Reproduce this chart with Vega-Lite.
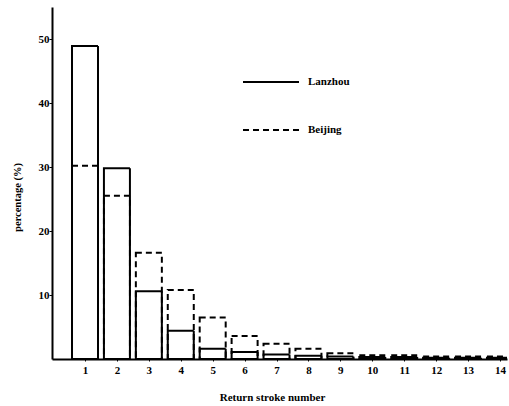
{
  "$schema": "https://vega.github.io/schema/vega-lite/v6.json",
  "width": 455,
  "height": 352,
  "autosize": "none",
  "padding": {"left": 52, "top": 7, "right": 2, "bottom": 47},
  "background": "white",
  "config": {
    "view": {"stroke": null},
    "font": "Liberation Serif"
  },
  "data": {
    "values": [
      {"n": 1, "city": "Beijing", "pct": 30.2},
      {"n": 2, "city": "Beijing", "pct": 25.5},
      {"n": 3, "city": "Beijing", "pct": 16.6},
      {"n": 4, "city": "Beijing", "pct": 10.8},
      {"n": 5, "city": "Beijing", "pct": 6.5},
      {"n": 6, "city": "Beijing", "pct": 3.6},
      {"n": 7, "city": "Beijing", "pct": 2.4},
      {"n": 8, "city": "Beijing", "pct": 1.6},
      {"n": 9, "city": "Beijing", "pct": 0.9},
      {"n": 10, "city": "Beijing", "pct": 0.6},
      {"n": 11, "city": "Beijing", "pct": 0.6},
      {"n": 12, "city": "Beijing", "pct": 0.4},
      {"n": 13, "city": "Beijing", "pct": 0.4},
      {"n": 14, "city": "Beijing", "pct": 0.4},
      {"n": 1, "city": "Lanzhou", "pct": 48.9},
      {"n": 2, "city": "Lanzhou", "pct": 29.8},
      {"n": 3, "city": "Lanzhou", "pct": 10.6},
      {"n": 4, "city": "Lanzhou", "pct": 4.4},
      {"n": 5, "city": "Lanzhou", "pct": 1.6},
      {"n": 6, "city": "Lanzhou", "pct": 1.1},
      {"n": 7, "city": "Lanzhou", "pct": 0.7},
      {"n": 8, "city": "Lanzhou", "pct": 0.5},
      {"n": 9, "city": "Lanzhou", "pct": 0.4},
      {"n": 10, "city": "Lanzhou", "pct": 0.3},
      {"n": 11, "city": "Lanzhou", "pct": 0.3},
      {"n": 12, "city": "Lanzhou", "pct": 0.2},
      {"n": 13, "city": "Lanzhou", "pct": 0.2},
      {"n": 14, "city": "Lanzhou", "pct": 0.2}
    ]
  },
  "mark": {"type": "bar", "filled": false, "color": "black", "strokeWidth": 2, "size": 26, "clip": true},
  "encoding": {
    "x": {
      "field": "n", "type": "quantitative",
      "scale": {"domain": [-0.034, 14.22], "nice": false, "zero": false, "padding": 0},
      "axis": {
        "values": [1,2,3,4,5,6,7,8,9,10,11,12,13,14], "format": "d",
        "title": "Return stroke number",
        "titleFont": "Liberation Serif", "titleFontWeight": "bold", "titleFontSize": 11,
        "titleX": 220, "titleY": 38, "titleBaseline": "middle",
        "labelFont": "Liberation Serif", "labelFontWeight": "bold", "labelFontSize": 11,
        "labelColor": "black", "titleColor": "black",
        "domainColor": "black", "domainWidth": 2,
        "ticks": true, "tickSize": 2, "tickColor": "black", "labelPadding": 3,
        "grid": false
      }
    },
    "y": {
      "field": "pct", "type": "quantitative", "stack": null,
      "scale": {"domain": [0, 55], "nice": false},
      "axis": {
        "values": [10, 20, 30, 40, 50],
        "title": "percentage (%)",
        "titleFont": "Liberation Serif", "titleFontWeight": "bold", "titleFontSize": 10.5,
        "titleX": -35, "titleY": 190, "titleBaseline": "middle",
        "labelFont": "Liberation Serif", "labelFontWeight": "bold", "labelFontSize": 11,
        "labelColor": "black", "titleColor": "black",
        "domainColor": "black", "domainWidth": 2,
        "tickSize": 3, "tickColor": "black", "labelPadding": 0,
        "grid": false
      }
    },
    "strokeDash": {
      "field": "city", "type": "nominal",
      "scale": {"domain": ["Lanzhou", "Beijing"], "range": [[1, 0], [6, 4]]},
      "legend": {
        "title": null, "orient": "none", "legendX": 204, "legendY": 60,
        "symbolType": "M-2,0H2", "symbolSize": 784,
        "symbolStrokeColor": "black", "symbolStrokeWidth": 2, "symbolFillColor": "transparent",
        "rowPadding": 28, "padding": 0, "labelOffset": 22,
        "labelFont": "Liberation Serif", "labelFontWeight": "bold", "labelFontSize": 11,
        "labelColor": "black"
      }
    }
  }
}
